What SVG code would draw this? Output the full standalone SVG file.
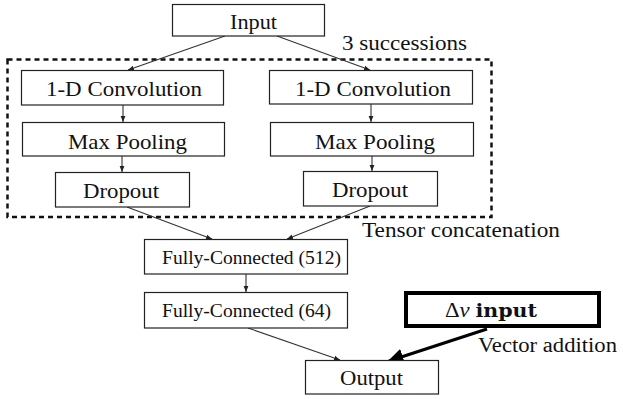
<svg xmlns="http://www.w3.org/2000/svg" width="623" height="399" viewBox="0 0 623 399">
  <style>
    .box { fill: #fff; stroke: #222; stroke-width: 1.2; }
    .edge { stroke: #333; stroke-width: 1.1; fill: none; marker-end: url(#arr); }
    text { font-family: "Liberation Serif", "Times New Roman", serif; fill: #111; }
  </style>
  <defs>
    <marker id="arr" viewBox="0 0 10 10" refX="10" refY="5" markerWidth="6" markerHeight="6" markerUnits="userSpaceOnUse" orient="auto">
      <path d="M0,1 L10,5 L0,9 z" fill="#222"/>
    </marker>
    <marker id="arrBig" viewBox="0 0 10 10" refX="9" refY="5" markerWidth="5" markerHeight="5" orient="auto">
      <path d="M0,0 L10,5 L0,10 z" fill="#000"/>
    </marker>
  </defs>
  <rect width="623" height="399" fill="#fff"/>

  <!-- dashed frame around the repeated convolution branches -->
  <rect x="7.5" y="59.5" width="484" height="157.5" fill="none" stroke="#111" stroke-width="2.5" stroke-dasharray="5,4"/>
  <text x="342" y="50" font-size="20" textLength="125" lengthAdjust="spacingAndGlyphs">3 successions</text>
  <text x="362" y="237" font-size="20" textLength="198" lengthAdjust="spacingAndGlyphs">Tensor concatenation</text>
  <text x="478" y="352" font-size="20" textLength="139" lengthAdjust="spacingAndGlyphs">Vector addition</text>

  <g id="connectors">
    <line class="edge" x1="225" y1="36" x2="128" y2="70"/>
    <line class="edge" x1="277" y1="36" x2="370" y2="70"/>
    <line class="edge" x1="123" y1="105" x2="123" y2="122"/>
    <line class="edge" x1="371" y1="104" x2="371" y2="122"/>
    <line class="edge" x1="122" y1="156" x2="122" y2="172"/>
    <line class="edge" x1="372" y1="156" x2="372" y2="171"/>
    <line class="edge" x1="127" y1="207" x2="212" y2="239"/>
    <line class="edge" x1="370" y1="206" x2="287" y2="239"/>
    <line class="edge" x1="246" y1="274" x2="246" y2="292"/>
    <line class="edge" x1="248" y1="328" x2="340" y2="360"/>
    <line x1="487" y1="329" x2="389" y2="361" stroke="#000" stroke-width="3.2" marker-end="url(#arrBig)"/>
  </g>

  <g id="input">
    <rect class="box" x="172.5" y="4.5" width="152" height="31.5"/>
    <text x="230" y="29" font-size="21" textLength="47" lengthAdjust="spacingAndGlyphs">Input</text>
  </g>
  <g id="conv-left">
    <rect class="box" x="21.5" y="70.5" width="202" height="34.5"/>
    <text x="46" y="96" font-size="21" textLength="156" lengthAdjust="spacingAndGlyphs">1-D Convolution</text>
  </g>
  <g id="conv-right">
    <rect class="box" x="269.5" y="70.5" width="203" height="33.5"/>
    <text x="295" y="95.5" font-size="21" textLength="156" lengthAdjust="spacingAndGlyphs">1-D Convolution</text>
  </g>
  <g id="pool-left">
    <rect class="box" x="22.5" y="122.5" width="202" height="33.5"/>
    <text x="68" y="149" font-size="21" textLength="119" lengthAdjust="spacingAndGlyphs">Max Pooling</text>
  </g>
  <g id="pool-right">
    <rect class="box" x="270.5" y="122.5" width="203" height="33.5"/>
    <text x="315" y="148.5" font-size="21" textLength="120" lengthAdjust="spacingAndGlyphs">Max Pooling</text>
  </g>
  <g id="drop-left">
    <rect class="box" x="55.5" y="172.5" width="134" height="34.5"/>
    <text x="83" y="198" font-size="21" textLength="76" lengthAdjust="spacingAndGlyphs">Dropout</text>
  </g>
  <g id="drop-right">
    <rect class="box" x="303.5" y="171.5" width="134" height="34.5"/>
    <text x="332" y="197" font-size="21" textLength="76" lengthAdjust="spacingAndGlyphs">Dropout</text>
  </g>
  <g id="fc512">
    <rect class="box" x="144.5" y="239.5" width="203" height="34.5"/>
    <text x="162" y="264" font-size="18" textLength="179" lengthAdjust="spacingAndGlyphs">Fully-Connected (512)</text>
  </g>
  <g id="fc64">
    <rect class="box" x="144.5" y="292.5" width="203" height="35.5"/>
    <text x="162" y="317" font-size="18" textLength="169" lengthAdjust="spacingAndGlyphs">Fully-Connected (64)</text>
  </g>
  <g id="output">
    <rect class="box" x="305.5" y="360.5" width="133" height="33.5"/>
    <text x="340" y="385" font-size="21" textLength="63" lengthAdjust="spacingAndGlyphs">Output</text>
  </g>
  <g id="dv-input">
    <rect x="406" y="293" width="193" height="33" fill="#fff" stroke="#000" stroke-width="4"/>
    <text x="445" y="317" font-size="21" textLength="92" lengthAdjust="spacingAndGlyphs">Δ<tspan font-style="italic">ν</tspan> <tspan font-family="DejaVu Serif" font-weight="bold" font-size="19">input</tspan></text>
  </g>
</svg>
